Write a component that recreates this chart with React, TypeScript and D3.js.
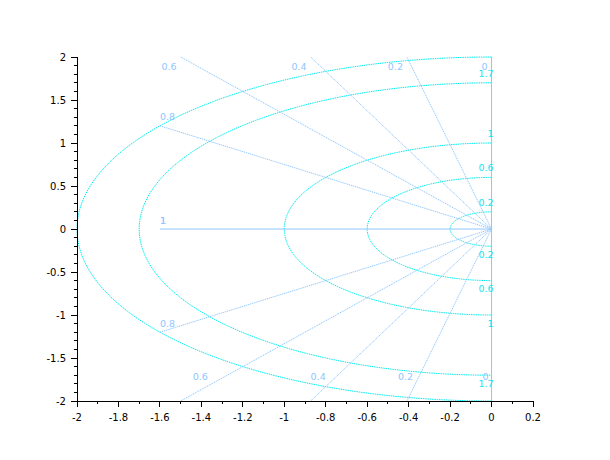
import React from "react";
import * as d3 from "d3";

// damping ratios (zeta) and natural frequencies (wn)
const zetaValues = [0, 0.2, 0.4, 0.6, 0.8, 1];
const zetaLabels = ["0", "0.2", "0.4", "0.6", "0.8", "1"];
const wnValues = [0.2, 0.6, 1, 1.7, 2];
const wnLabels = ["0.2", "0.6", "1", "1.7", ""];
const xTicks = [-2, -1.8, -1.6, -1.4, -1.2, -1, -0.8, -0.6, -0.4, -0.2, 0, 0.2];
const yTicks = [-2, -1.5, -1, -0.5, 0, 0.5, 1, 1.5, 2];
const xDomain = [-2, 0.2];
const yDomain = [-2, 2];
const lineReachX = 1.6;

const W = 610, H = 460;
const M = { left: 77, right: 533, top: 57, bottom: 401 };
const LINE_COLOR = "#8ec6ff";
const CIRCLE_COLOR = "#00eeee";
const WN_TEXT = "#14e6ee";
const FONT = "DejaVu Sans, sans-serif";

export default function App() {
  const x = d3.scaleLinear().domain(xDomain).range([M.left, M.right]);
  const y = d3.scaleLinear().domain(yDomain).range([M.bottom, M.top]);
  const fmt = (v: number) => String(Math.round(v * 10) / 10);

  const xMinor = d3.range(-2, 0.2001, 0.1).map((v) => Math.round(v * 10) / 10);
  const yMinor = d3.range(-2, 2.0001, 0.1).map((v) => Math.round(v * 10) / 10);

  const line = d3
    .line<[number, number]>()
    .x((d) => x(d[0]))
    .y((d) => y(d[1]));

  const angles = d3.range(0, 121).map((i) => Math.PI / 2 + (i / 120) * Math.PI);

  const zetaEnds = zetaValues.map((z) => {
    const s = Math.sqrt(1 - z * z);
    const L = Math.min(z > 0 ? lineReachX / z : Infinity, s > 0 ? yDomain[1] / s : Infinity);
    return [-L * z, L * s] as [number, number];
  });

  const bottomNudge: Record<string, number> = { "0.6": 12, "0.4": 0, "0.2": -9, "0": -9 };

  return (
    <svg
      width={W}
      height={H}
      style={{ position: "absolute", left: 0, top: 0, background: "#fff" }}
      fontFamily={FONT}
    >
      {/* wn half-circles */}
      {wnValues.map((wn, i) => (
        <path
          key={"c" + i}
          d={line(angles.map((t) => [wn * Math.cos(t), wn * Math.sin(t)] as [number, number])) || ""}
          fill="none"
          stroke={CIRCLE_COLOR}
          strokeWidth={1}
          strokeDasharray="1.5,0.8"
        />
      ))}
      {/* zeta lines */}
      {zetaValues.map((z, i) => {
        const [ex, ey] = zetaEnds[i];
        const axisAligned = z === 0 || z === 1;
        return (
          <g key={"z" + i}>
            <path
              d={line([[0, 0], [ex, ey]]) || ""}
              stroke={LINE_COLOR}
              strokeWidth={1}
              strokeDasharray={axisAligned ? undefined : "1.2,0.8"}
              fill="none"
            />
            {z !== 1 && (
              <path
                d={line([[0, 0], [ex, -ey]]) || ""}
                stroke={LINE_COLOR}
                strokeWidth={1}
                strokeDasharray={axisAligned ? undefined : "1.2,0.8"}
                fill="none"
              />
            )}
          </g>
        );
      })}
      {/* zeta labels */}
      {zetaValues.map((z, i) => {
        const [ex, ey] = zetaEnds[i];
        const hitsTop = Math.abs(ey - yDomain[1]) < 1e-9;
        const lbl = zetaLabels[i];
        if (hitsTop) {
          return (
            <g key={"zl" + i} fontSize={9.5} fill={LINE_COLOR}>
              <text x={x(ex) - 4} y={y(ey) + 12.5} textAnchor="end">{lbl}</text>
              <text x={x(ex) + bottomNudge[lbl]} y={y(-ey) - 21} textAnchor="start">{lbl}</text>
            </g>
          );
        }
        return (
          <g key={"zl" + i} fontSize={9.5} fill={LINE_COLOR}>
            <text x={x(ex)} y={y(ey) - 5.5} textAnchor="start">{lbl}</text>
            <text x={x(ex)} y={y(-ey) - 5} textAnchor="start">{lbl}</text>
          </g>
        );
      })}
      {/* wn labels */}
      {wnValues.map((wn, i) =>
        wnLabels[i] ? (
          <g key={"wl" + i} fontSize={9.5} fill={WN_TEXT} textAnchor="end">
            <text x={x(0) + 2} y={y(wn) - 6}>{wnLabels[i]}</text>
            <text x={x(0) + 2} y={y(-wn) + 11.5}>{wnLabels[i]}</text>
          </g>
        ) : null
      )}
      {/* axes */}
      <g stroke="#000" strokeWidth={1} shapeRendering="crispEdges">
        <line x1={M.left} x2={M.left} y1={M.top} y2={M.bottom} />
        <line x1={M.left} x2={M.right} y1={M.bottom} y2={M.bottom} />
        {xMinor.map((v, i) => (
          <line key={"xm" + i} x1={x(v)} x2={x(v)} y1={M.bottom} y2={M.bottom + 3} />
        ))}
        {xTicks.map((v, i) => (
          <line key={"xt" + i} x1={x(v)} x2={x(v)} y1={M.bottom} y2={M.bottom + 6} />
        ))}
        {yMinor.map((v, i) => (
          <line key={"ym" + i} x1={M.left - 3} x2={M.left} y1={y(v)} y2={y(v)} />
        ))}
        {yTicks.map((v, i) => (
          <line key={"yt" + i} x1={M.left - 6} x2={M.left} y1={y(v)} y2={y(v)} />
        ))}
      </g>
      <g fontSize={10} fill="#000">
        {xTicks.map((v, i) => (
          <text key={"xl" + i} x={x(v)} y={M.bottom + 20} textAnchor="middle">{fmt(v)}</text>
        ))}
        {yTicks.map((v, i) => (
          <text key={"yl" + i} x={M.left - 11} y={y(v) + 3.5} textAnchor="end">{fmt(v)}</text>
        ))}
      </g>
    </svg>
  );
}
